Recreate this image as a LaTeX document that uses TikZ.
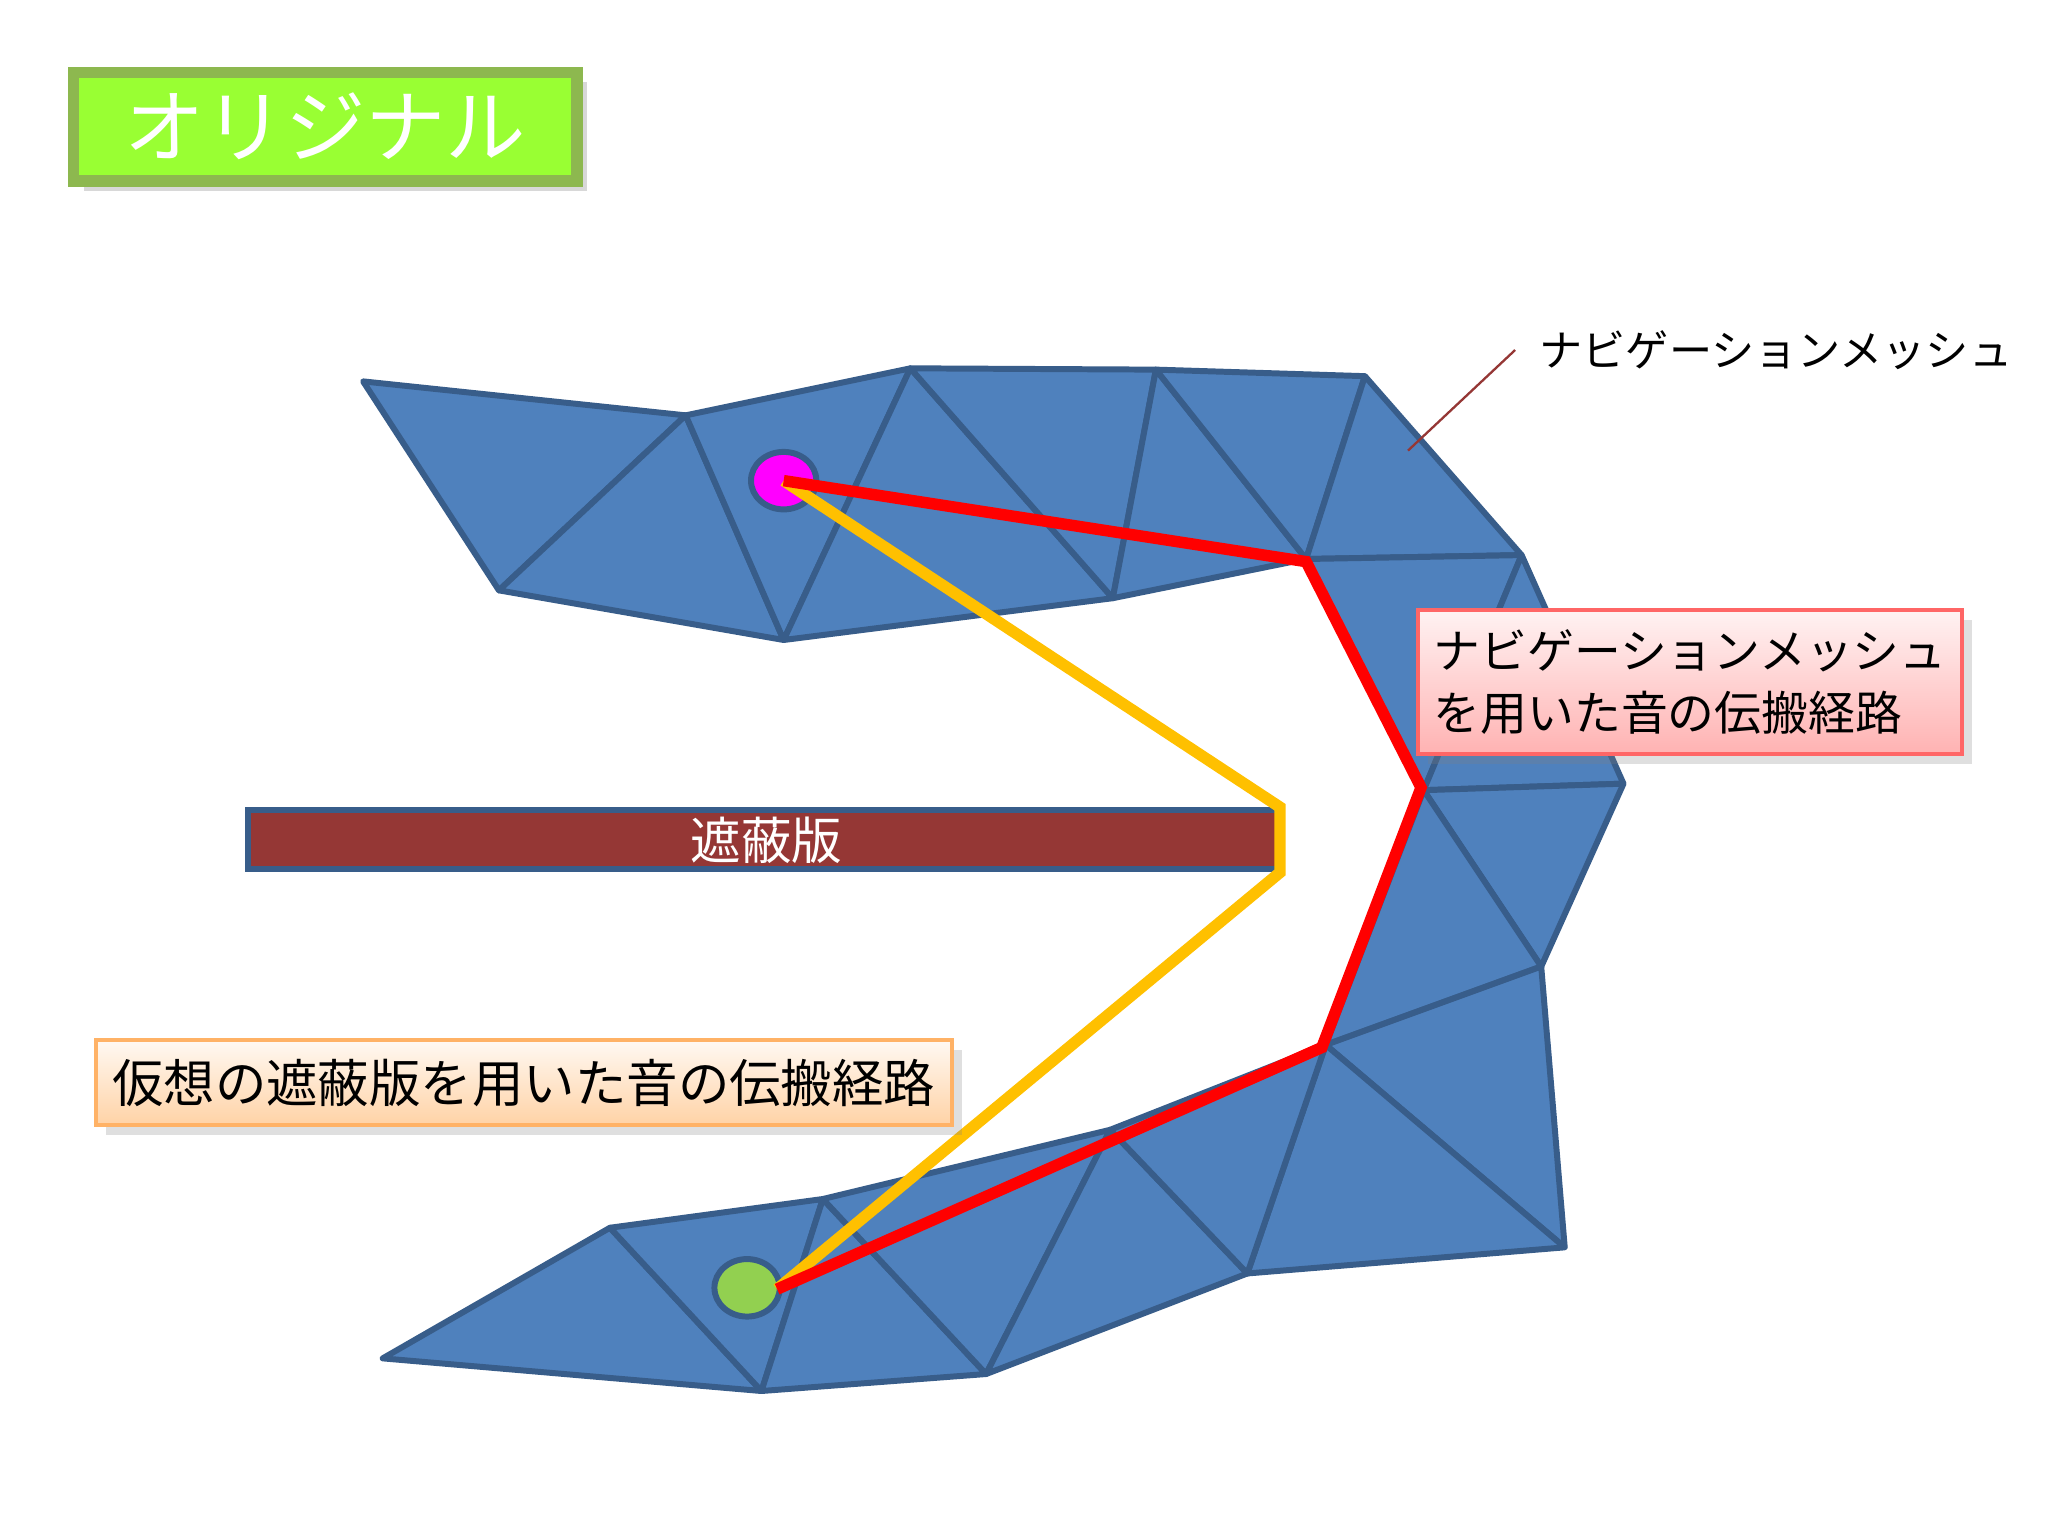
\documentclass[tikz,border=0pt]{standalone}
\usepackage{fontspec}
\newfontfamily\cjk{Noto Sans CJK JP}
\usetikzlibrary{shadows,shapes.geometric}
\definecolor{meshfill}{HTML}{4F81BD}
\definecolor{meshline}{HTML}{385D8A}
\definecolor{barrier}{HTML}{953735}
\definecolor{titlefill}{HTML}{99FF33}
\definecolor{titleline}{HTML}{8DB84F}
\definecolor{pathred}{HTML}{FF0000}
\definecolor{pathyel}{HTML}{FFC000}
\definecolor{dotgreen}{HTML}{92D050}
\definecolor{dotmag}{HTML}{FF00FF}
\tikzset{tri/.style={fill=meshfill,draw=meshline,line width=1.3pt,line join=round},
 route/.style={line width=2.5pt,line join=miter}}
\begin{document}
\begin{tikzpicture}[x=0.01cm,y=-0.01cm]
\useasboundingbox (0,0) rectangle (1568,1176);
\fill[white] (0,0) rectangle (1568,1176);
% title
\node[draw=titleline,line width=2.5pt,fill=titlefill,minimum width=3.85cm,minimum height=0.83cm,drop shadow={opacity=0.3}] (title) at (249,97) {\cjk\fontsize{17.5}{20}\selectfont\color{white}オリジナル};
% top strip
\draw[tri] (278,292)--(525,318)--(382,452)--cycle;
\draw[tri] (525,318)--(382,452)--(600,490)--cycle;
\draw[tri] (525,318)--(697,282)--(600,490)--cycle;
\draw[tri] (697,282)--(600,490)--(852,458)--cycle;
\draw[tri] (697,282)--(885,283)--(852,458)--cycle;
\draw[tri] (885,283)--(852,458)--(1000,428)--cycle;
\draw[tri] (885,283)--(1045,288)--(1000,428)--cycle;
\draw[tri] (1045,288)--(1165,425)--(1000,428)--cycle;
% right column
\draw[tri] (1000,428)--(1165,425)--(1090,605)--cycle;
\draw[tri] (1165,425)--(1243,600)--(1090,605)--cycle;
\draw[tri] (1090,605)--(1243,600)--(1180,740)--cycle;
\draw[tri] (1090,605)--(1180,740)--(1015,800)--cycle;
\draw[tri] (1015,800)--(1180,740)--(1198,955)--cycle;
\draw[tri] (1015,800)--(1198,955)--(955,975)--cycle;
% bottom strip
\draw[tri] (293,1040)--(467,940)--(583,1065)--cycle;
\draw[tri] (467,940)--(630,918)--(583,1065)--cycle;
\draw[tri] (630,918)--(583,1065)--(755,1052)--cycle;
\draw[tri] (630,918)--(850,865)--(755,1052)--cycle;
\draw[tri] (850,865)--(755,1052)--(955,975)--cycle;
\draw[tri] (850,865)--(1015,800)--(955,975)--cycle;
% barrier
\node[draw=meshline,line width=1.3pt,fill=barrier,minimum width=7.9cm,minimum height=0.45cm,inner sep=0pt] (bar) at (585,643) {};
\node[text=white] (bartxt) at (587,643) {\cjk\fontsize{11}{13}\selectfont 遮蔽版};
% points
\coordinate (src) at (600,368);
\coordinate (dst) at (595,987);
\coordinate (r1) at (1000,430);
\coordinate (r2) at (1088,603);
\coordinate (r3) at (1012,802);
\coordinate (y1) at (980,618);
\coordinate (y2) at (980,668);
\node[ellipse,fill=dotmag,draw=meshline,line width=1.3pt,minimum width=0.5cm,minimum height=0.44cm,inner sep=0pt] (srcdot) at (600,368) {};
\node[ellipse,fill=dotgreen,draw=meshline,line width=1.3pt,minimum width=0.5cm,minimum height=0.44cm,inner sep=0pt] (dstdot) at (572,986) {};
\draw[route,pathyel] (src)--(y1)--(y2)--(dst);
\draw[route,pathred] (src)--(r1)--(r2)--(r3)--(dst);
% labels
\node[anchor=west,inner sep=0pt,font=\cjk\fontsize{9.4}{11}\selectfont] (navlbl) at (1178,268) {ナビゲーションメッシュ};
\coordinate (lead) at (1078,345);
\coordinate (leadtop) at (1160,268);
\draw[barrier,line width=0.5pt] (leadtop) -- (lead);
\node[draw=red!60,line width=0.8pt,top color=red!5,bottom color=red!30,minimum width=4.16cm,minimum height=1.1cm,align=left,drop shadow={opacity=0.25},font=\cjk\fontsize{10.2}{13.5}\selectfont] (redbox) at (1294,522) {ナビゲーションメッシュ\\を用いた音の伝搬経路};
\node[draw=orange!60,line width=0.8pt,top color=orange!5,bottom color=orange!35,minimum width=6.55cm,minimum height=0.65cm,drop shadow={opacity=0.25},font=\cjk\fontsize{11.2}{13}\selectfont] (orbox) at (401,829) {仮想の遮蔽版を用いた音の伝搬経路};
\end{tikzpicture}
\end{document}
